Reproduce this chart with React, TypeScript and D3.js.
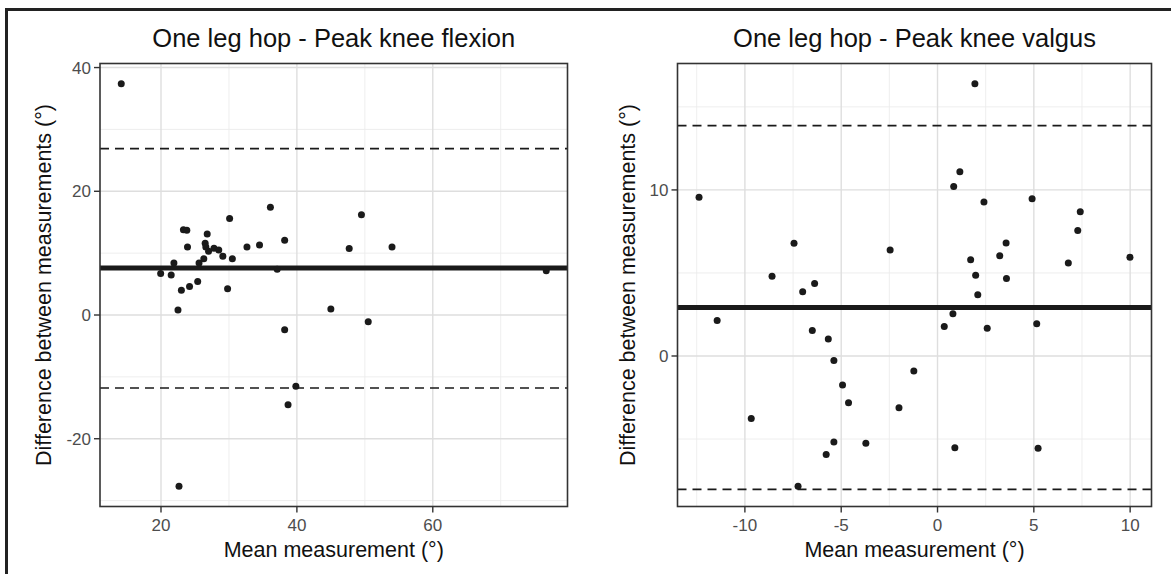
import React from "react";
import * as d3 from "d3";

// ---------- Data ----------
const flexTitle = "One leg hop - Peak knee flexion";
const flexX = [14.15, 36.1, 30.1, 49.5, 23.3, 23.8, 26.8, 23.9, 26.5, 26.6, 32.65, 34.5, 38.2, 47.7, 54.0, 27.8, 28.5, 27.0, 29.1, 30.5, 26.3, 25.6, 21.9, 21.5, 19.95, 37.1, 76.7, 25.4, 24.2, 23.0, 29.8, 22.5, 45.0, 50.5, 38.2, 39.85, 38.7, 22.65];
const flexY = [37.4, 17.4, 15.6, 16.2, 13.8, 13.7, 13.1, 11.0, 11.6, 11.0, 11.0, 11.3, 12.1, 10.75, 11.0, 10.8, 10.5, 10.3, 9.5, 9.1, 9.1, 8.4, 8.4, 6.45, 6.7, 7.4, 7.15, 5.4, 4.6, 4.0, 4.25, 0.8, 0.97, -1.08, -2.4, -11.5, -14.5, -27.7];
const flexLines = [7.58, 26.9, -11.8]; // mean, upper LoA, lower LoA
const flexXTicks = [20, 40, 60];
const flexXMinor = [30, 50, 70];
const flexYTicks = [-20, 0, 20, 40];
const flexYMinor = [-30, -10, 10, 30];

const valTitle = "One leg hop - Peak knee valgus";
const valX = [1.94, 1.16, 0.84, -12.38, 2.41, 4.91, 7.41, 7.28, -7.45, 3.56, -2.46, 1.72, 3.23, 6.79, 9.99, -8.59, 1.98, 3.58, -6.38, -7.0, 2.09, 0.8, -11.44, 5.15, 0.35, 2.58, -6.5, -5.67, -5.38, -1.23, -4.93, -4.62, -2.0, -9.67, -5.38, -3.72, 0.9, 5.22, -5.78, -7.24];
const valY = [16.4, 11.09, 10.2, 9.56, 9.27, 9.47, 8.69, 7.56, 6.79, 6.81, 6.39, 5.8, 6.03, 5.6, 5.95, 4.8, 4.86, 4.66, 4.36, 3.87, 3.69, 2.54, 2.14, 1.94, 1.77, 1.67, 1.53, 1.03, -0.27, -0.91, -1.74, -2.81, -3.11, -3.77, -5.18, -5.25, -5.53, -5.55, -5.93, -7.85];
const valLines = [2.92, 13.87, -8.03];
const valXTicks = [-10, -5, 0, 5, 10];
const valXMinor = [-12.5, -7.5, -2.5, 2.5, 7.5];
const valYTicks = [0, 10];
const valYMinor = [-5, 5, 15];

const xTitle = "Mean measurement (°)";
const yTitle = "Difference between measurements (°)";

const FONT = "'Liberation Sans', Arial, Helvetica, sans-serif";

function expand(vals: number[]): [number, number] {
  const [lo, hi] = d3.extent(vals) as [number, number];
  const pad = (hi - lo) * 0.05;
  return [lo - pad, hi + pad];
}

type PanelProps = {
  title: string;
  xs: number[];
  ys: number[];
  lines: number[];
  xTicks: number[];
  xMinor: number[];
  yTicks: number[];
  yMinor: number[];
  left: number;
  right: number;
  yLabelX: number;
};

function Panel(p: PanelProps) {
  const top = 63.5;
  const bottom = 506.5;
  const x = d3.scaleLinear().domain(expand(p.xs)).range([p.left, p.right]);
  const y = d3.scaleLinear().domain(expand(p.ys)).range([bottom, top]);
  const [xd0, xd1] = x.domain();
  const [yd0, yd1] = y.domain();
  const inX = (v: number) => v >= xd0 && v <= xd1;
  const inY = (v: number) => v >= yd0 && v <= yd1;
  const cx = (p.left + p.right) / 2;
  const cy = (top + bottom) / 2;
  return (
    <g>
      <text x={cx} y={47} textAnchor="middle" fontSize={25.5} fontFamily={FONT} fill="#111">
        {p.title}
      </text>
      <rect x={p.left} y={top} width={p.right - p.left} height={bottom - top} fill="#fff" />
      {p.xMinor.filter(inX).map((v) => (
        <line key={"xm" + v} x1={x(v)} x2={x(v)} y1={top} y2={bottom} stroke="#ececec" strokeWidth={0.9} />
      ))}
      {p.yMinor.filter(inY).map((v) => (
        <line key={"ym" + v} y1={y(v)} y2={y(v)} x1={p.left} x2={p.right} stroke="#ececec" strokeWidth={0.9} />
      ))}
      {p.xTicks.filter(inX).map((v) => (
        <line key={"xg" + v} x1={x(v)} x2={x(v)} y1={top} y2={bottom} stroke="#dedede" strokeWidth={1.4} />
      ))}
      {p.yTicks.filter(inY).map((v) => (
        <line key={"yg" + v} y1={y(v)} y2={y(v)} x1={p.left} x2={p.right} stroke="#dedede" strokeWidth={1.4} />
      ))}
      <line x1={p.left} x2={p.right} y1={y(p.lines[0])} y2={y(p.lines[0])} stroke="#1a1a1a" strokeWidth={5} />
      {[p.lines[1], p.lines[2]].map((v, i) => (
        <line key={"d" + i} x1={p.left} x2={p.right} y1={y(v)} y2={y(v)} stroke="#1a1a1a" strokeWidth={1.6} strokeDasharray="9,6" />
      ))}
      {p.xs.map((v, i) => (
        <circle key={"pt" + i} cx={x(v)} cy={y(p.ys[i])} r={3.5} fill="#1a1a1a" />
      ))}
      <rect x={p.left} y={top} width={p.right - p.left} height={bottom - top} fill="none" stroke="#333" strokeWidth={1.6} />
      {p.xTicks.filter(inX).map((v) => (
        <g key={"xt" + v}>
          <line x1={x(v)} x2={x(v)} y1={bottom} y2={bottom + 6} stroke="#333" strokeWidth={1.4} />
          <text x={x(v)} y={530.7} textAnchor="middle" fontSize={17} fontFamily={FONT} fill="#4d4d4d">
            {v}
          </text>
        </g>
      ))}
      {p.yTicks.filter(inY).map((v) => (
        <g key={"yt" + v}>
          <line x1={p.left - 6} x2={p.left} y1={y(v)} y2={y(v)} stroke="#333" strokeWidth={1.4} />
          <text x={p.left - 9} y={y(v)} dy="0.36em" textAnchor="end" fontSize={17} fontFamily={FONT} fill="#4d4d4d">
            {v}
          </text>
        </g>
      ))}
      <text x={cx} y={556.7} textAnchor="middle" fontSize={21.5} fontFamily={FONT} fill="#111">
        {xTitle}
      </text>
      <text transform={`translate(${p.yLabelX},${cy}) rotate(-90)`} textAnchor="middle" fontSize={21.5} fontFamily={FONT} fill="#111">
        {yTitle}
      </text>
    </g>
  );
}

export default function App() {
  return (
    <svg width={1171} height={574} style={{ position: "absolute", left: 0, top: 0, background: "#fff" }}>
      <rect x={0} y={0} width={1171} height={574} fill="#fff" />
      <path d="M6.5,574 V9.5 H1171" fill="none" stroke="#222" strokeWidth={3} />
      <Panel
        title={flexTitle}
        xs={flexX}
        ys={flexY}
        lines={flexLines}
        xTicks={flexXTicks}
        xMinor={flexXMinor}
        yTicks={flexYTicks}
        yMinor={flexYMinor}
        left={100}
        right={567.5}
        yLabelX={51}
      />
      <Panel
        title={valTitle}
        xs={valX}
        ys={valY}
        lines={valLines}
        xTicks={valXTicks}
        xMinor={valXMinor}
        yTicks={valYTicks}
        yMinor={valYMinor}
        left={677.5}
        right={1151.5}
        yLabelX={634.5}
      />
    </svg>
  );
}
